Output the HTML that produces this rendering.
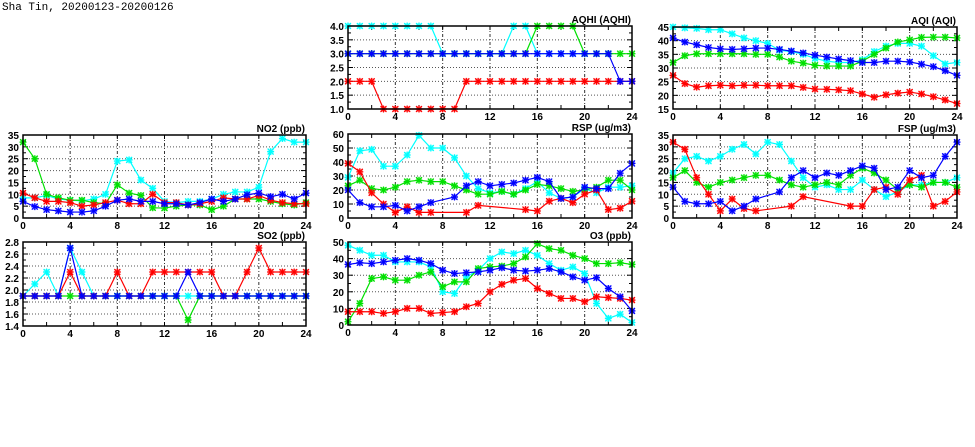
<!DOCTYPE html>
<html><head><meta charset="utf-8"><style>
html,body{margin:0;padding:0;background:#fff;width:975px;height:447px;overflow:hidden}
svg text{font-family:"Liberation Sans",sans-serif;font-weight:bold;font-size:10px;fill:#000}
</style></head><body>
<svg id="s" width="975" height="447" xmlns="http://www.w3.org/2000/svg">
<text x="2" y="10" style="font-family:'Liberation Mono',monospace;font-size:11px;font-weight:normal">Sha Tin, 20200123-20200126</text>
</svg>
<script>
const S=document.getElementById('s');const NS='http://www.w3.org/2000/svg';
function el(t,a,txt){const e=document.createElementNS(NS,t);for(const k in a)e.setAttribute(k,a[k]);if(txt!==undefined)e.textContent=txt;S.appendChild(e);return e;}
const C={c:'#00ffff',g:'#00e000',b:'#0000ff',r:'#ff0000'};
function panel(p){
 const {x0,x1,y0,y1,min,max,step,title,dec,minor}=p;
 const X=h=>x0+(x1-x0)*h/24, Y=v=>y1-(y1-y0)*(v-min)/(max-min);
 for(let v=min+step;v<max-1e-9;v+=step){el('line',{x1:x0,x2:x1,y1:Y(v),y2:Y(v),stroke:'#555','stroke-width':1,'stroke-dasharray':'1,2'});}
 for(let h=4;h<24;h+=4){el('line',{x1:X(h),x2:X(h),y1:y0,y2:y1,stroke:'#333','stroke-width':1,'stroke-dasharray':'3,2,1,2'});}
 for(let h=2;h<24;h+=2){el('line',{x1:X(h),x2:X(h),y1:y1,y2:y1-4,stroke:'#000'});el('line',{x1:X(h),x2:X(h),y1:y0,y2:y0+4,stroke:'#000'});}
 for(let v=min;v<=max+1e-9;v+=step/2){const l=Math.abs(((v-min)/step)%1)<1e-6?5:3;el('line',{x1:x0,x2:x0+l,y1:Y(v),y2:Y(v),stroke:'#000'});el('line',{x1:x1,x2:x1-l,y1:Y(v),y2:Y(v),stroke:'#000'});}
 for(let v=min;v<=max+1e-9;v+=step){el('text',{x:x0-4,y:Y(v)+4,'text-anchor':'end'},dec?v.toFixed(dec):Math.round(v));}
 for(let h=0;h<=24;h+=4){el('text',{x:X(h),y:y1+11,'text-anchor':'middle'},h);}
 el('text',{x:x1-1,y:y0-3,'text-anchor':'end'},title);
 for(const k of ['c','g','r','b']){const d=p[k];if(!d)continue;let pts=[];d.forEach((v,i)=>{if(v!=null)pts.push([X(i),Y(v)]);});
  el('polyline',{points:pts.map(q=>q.join(',')).join(' '),fill:'none',stroke:C[k],'stroke-width':1.2});
  for(const [a,b] of pts){el('rect',{x:a-3,y:b-3,width:6,height:6,fill:C[k],'fill-opacity':0.35,stroke:'none'});
   el('path',{d:`M${a-3},${b-3}L${a+3},${b+3}M${a-3},${b+3}L${a+3},${b-3}M${a-3.5},${b}L${a+3.5},${b}M${a},${b-3.5}L${a},${b+3.5}`,stroke:C[k],'stroke-width':1.2});}
 }
 el('rect',{x:x0,y:y0,width:x1-x0,height:y1-y0,fill:'none',stroke:'#000','stroke-width':1.5});
}
panel({x0:348,x1:632,y0:26,y1:109,min:1,max:4,step:0.5,dec:1,title:'AQHI (AQHI)',
c:[4,4,4,4,4,4,4,4,3,3,3,3,3,3,4,4,3,3,3,3,3,3,3],
g:[3,3,3,3,3,3,3,3,3,3,3,3,3,3,3,3,4,4,4,4,3,3,3,3,3],
b:[3,3,3,3,3,3,3,3,3,3,3,3,3,3,3,3,3,3,3,3,3,3,3,2,2],
r:[2,2,2,1,1,1,1,1,1,1,2,2,2,2,2,2,2,2,2,2,2,2,2,2,2]});
panel({x0:673,x1:957,y0:27,y1:109,min:15,max:45,step:5,title:'AQI (AQI)',
c:[45,44.7,44.5,44,44,42.5,41,40,39,36.5,36,35,33.5,32.5,32,32,33,36,38,39,39,38,34.5,31.5,32],
b:[41,39.5,38.5,37.5,37,36.8,37,37.3,37.3,36.8,36.2,35.5,34.7,34,33.3,32.7,32,32,32.5,32.5,32.2,31.4,30.5,29,27.3],
g:[32,34.5,35.2,35.2,35.2,35.2,35.2,35,35,34,32.5,31.8,31,30.7,30.7,30.7,32.5,35,37.3,39.5,40.3,41.2,41.3,41.3,41],
r:[27.3,24.3,23,23.5,23.7,23.5,23.7,23.7,23.5,23.5,23.5,22.9,22.3,22.2,22,21.7,20.5,19.3,20.2,20.8,21.2,20.5,19.5,18.3,17]});
panel({x0:23,x1:306,y0:135,y1:218,min:0,max:35,step:5,title:'NO2 (ppb)',
c:[8.5,8.5,9.5,8,7.5,7.2,8,10,24,24.5,16,12.5,7,6.5,7,7,8,10,11,11,13,28,33.5,32,32],
g:[32,25,10,8.5,7.5,7.5,6.5,6,14,10.5,9.5,4.3,4.2,5,5.5,5.5,3.5,5,8,8,8,7,6,5.5,6.5],
b:[7,4.8,3.5,3,2.5,2.5,3,5,7.5,8,7,7,6,6,5.5,6.5,8,7,8,9.8,10.5,9,10,8,10.5],
r:[10.5,8.5,7,7,6.5,5,5.5,6.5,7.5,6,6,10,6.5,6.5,5.5,6,7,8.5,8,8,9.5,7.5,6.5,6,6]});
panel({x0:348,x1:632,y0:134,y1:218,min:0,max:60,step:10,title:'RSP (ug/m3)',
c:[29,48,49,37,37,45,59,50,50,43,30,21,18,19,17,21,26,18,14,15,21,18,22,22,23],
g:[23,27,21,20,22,26,27,26,26,23,20,17,17,19,17,20,24,23,21,19,20,22,27,27,20],
b:[20,11,8,8,9,5,8,11,null,15,23,26,23,24,25,27,29,26,14,15,22,21,21,32,39],
r:[39,33,18,10,4,8,4,4,null,null,4,9,null,null,null,6,5,12,14,11,17,20,6,7,12]});
panel({x0:673,x1:957,y0:135,y1:218,min:0,max:35,step:5,title:'FSP (ug/m3)',
c:[19,25,26,24,26,29,31,27,32,31,24,17,13,14,12,12,16,12,9,11,14,14,15,15,17],
g:[17,20,15,13,15,16,17,18,18,16,14,13,14,15,14,18,21,19,16,12,14,13,15,15,13],
b:[13,7,6,6,7,3,5,8,null,11,17,20,17,19,18,20,22,21,12,13,20,17,18,26,32],
r:[32,29,17,10,3,8,4,3,null,null,5,9,null,null,null,5,5,12,13,10,16,18,5,7,11]});
panel({x0:23,x1:306,y0:242,y1:326,min:1.4,max:2.8,step:0.2,dec:1,title:'SO2 (ppb)',
c:[1.9,2.1,2.3,1.9,2.7,2.3,1.9,1.9,1.9,1.9,1.9,1.9,1.9,1.9,1.9,1.9,1.9,1.9,1.9,1.9,1.9,1.9,1.9,1.9,1.9],
g:[1.9,1.9,1.9,1.9,1.9,1.9,1.9,1.9,1.9,1.9,1.9,1.9,1.9,1.9,1.5,1.9,1.9,1.9,1.9,1.9,1.9,1.9,1.9,1.9,1.9],
r:[1.9,1.9,1.9,1.9,2.3,1.9,1.9,1.9,2.3,1.9,1.9,2.3,2.3,2.3,2.3,2.3,2.3,1.9,1.9,2.3,2.7,2.3,2.3,2.3,2.3],
b:[1.9,1.9,1.9,1.9,2.7,1.9,1.9,1.9,1.9,1.9,1.9,1.9,1.9,1.9,2.3,1.9,1.9,1.9,1.9,1.9,1.9,1.9,1.9,1.9,1.9]});
panel({x0:348,x1:632,y0:242,y1:325,min:0,max:50,step:10,title:'O3 (ppb)',
c:[48,45,42,42,38,38,38,35,20,19,29,33,40,44,43,45,42,37,33,35,31,13,4,6.5,1.5],
g:[2,13,28,29,27,27,30,32,23,26,26,34,35,35.5,37,41,49,46,45,42,40,37,37,37.5,36.5],
b:[36.5,37.5,37,38,39,40,39,37,33,31,31.5,32,33,34.5,33,32.5,33,34,32,29,27,28.5,22,17,8.5],
r:[8,8,8,7,8,10,10,7,7.5,8,11,13,20,24.5,27,28,22,19,16,16,14,17,16.5,16,15]});
</script>
</body></html>
